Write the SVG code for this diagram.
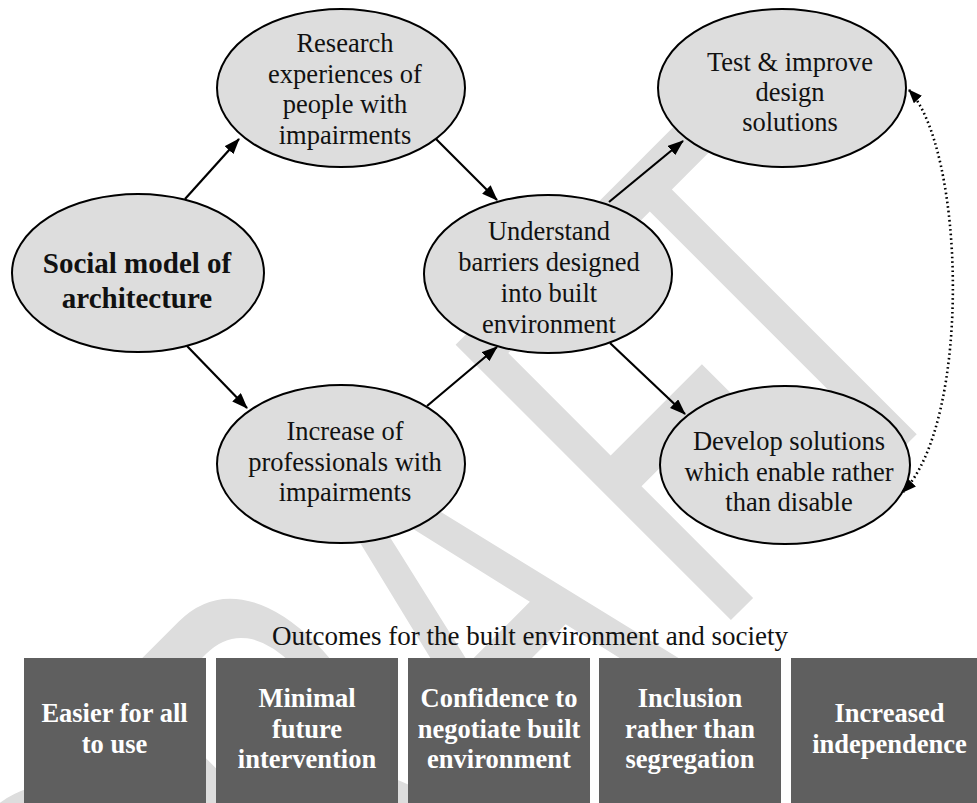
<svg xmlns="http://www.w3.org/2000/svg" width="977" height="803" viewBox="0 0 977 803">
  <style>
    .node ellipse { fill: #dddddd; stroke: #000000; stroke-width: 2; }
    .lbl { font-family: "Liberation Serif", "Times New Roman", serif; font-size: 26.5px; fill: #111111; text-anchor: middle; }
    .bold { font-weight: bold; font-size: 29px; }
    .box rect { fill: #5f5f5f; }
    .boxlbl { font-family: "Liberation Serif", "Times New Roman", serif; font-size: 26.5px; font-weight: bold; fill: #ffffff; text-anchor: middle; }
    .conn { stroke: #000000; stroke-width: 2.2; fill: none; }
    .dotted { stroke: #000000; stroke-width: 2.6; fill: none; stroke-dasharray: 1.6 3; }
    .wm { font-family: "Liberation Sans", Arial, sans-serif; font-size: 566px; fill: #dddddd; }
  </style>
  <defs>
    <marker id="arrow" viewBox="0 0 16 12" markerUnits="userSpaceOnUse" markerWidth="16" markerHeight="12" refX="15" refY="6" orient="auto">
      <path d="M0,0 L16,6 L0,12 z" fill="#000000"/>
    </marker>
    <marker id="arrowS" viewBox="0 0 14 11" markerUnits="userSpaceOnUse" markerWidth="14" markerHeight="11" refX="13" refY="5.5" orient="auto-start-reverse">
      <path d="M0,0 L14,5.5 L0,11 z" fill="#000000"/>
    </marker>
  </defs>
  <rect x="0" y="0" width="977" height="803" fill="#ffffff"/>

  <g id="watermark">
    <text class="wm" transform="translate(186,1165) rotate(-45) scale(0.594,1)" x="0" y="0">DRA<tspan dx="56">F</tspan><tspan dx="-56">T</tspan></text>
  </g>

  <g id="node-social" class="node">
    <ellipse cx="138" cy="273" rx="126" ry="79"/>
    <text class="lbl bold" x="137" y="273">Social model of</text>
    <text class="lbl bold" x="137" y="308">architecture</text>
  </g>
  <g id="node-research" class="node">
    <ellipse cx="341" cy="88" rx="124" ry="79"/>
    <text class="lbl" x="345" y="52">Research</text>
    <text class="lbl" x="345" y="82.5">experiences of</text>
    <text class="lbl" x="345" y="113">people with</text>
    <text class="lbl" x="345" y="143.5">impairments</text>
  </g>
  <g id="node-increase" class="node">
    <ellipse cx="341" cy="464" rx="124" ry="79"/>
    <text class="lbl" x="345" y="440">Increase of</text>
    <text class="lbl" x="345" y="470.5">professionals with</text>
    <text class="lbl" x="345" y="501">impairments</text>
  </g>
  <g id="node-understand" class="node">
    <ellipse cx="548" cy="274" rx="124" ry="79"/>
    <text class="lbl" x="549" y="240">Understand</text>
    <text class="lbl" x="549" y="271">barriers designed</text>
    <text class="lbl" x="549" y="302">into built</text>
    <text class="lbl" x="549" y="333">environment</text>
  </g>
  <g id="node-test" class="node">
    <ellipse cx="782" cy="88" rx="124" ry="79"/>
    <text class="lbl" x="790" y="70.5">Test &amp; improve</text>
    <text class="lbl" x="790" y="101">design</text>
    <text class="lbl" x="790" y="131">solutions</text>
  </g>
  <g id="node-develop" class="node">
    <ellipse cx="785" cy="465" rx="125" ry="79"/>
    <text class="lbl" x="789" y="450">Develop solutions</text>
    <text class="lbl" x="789" y="480.5">which enable rather</text>
    <text class="lbl" x="789" y="511">than disable</text>
  </g>

  <g id="connectors">
    <line class="conn" x1="185" y1="199" x2="239" y2="139" marker-end="url(#arrow)"/>
    <line class="conn" x1="187" y1="346" x2="247" y2="408" marker-end="url(#arrow)"/>
    <line class="conn" x1="436" y1="139" x2="497" y2="200" marker-end="url(#arrow)"/>
    <line class="conn" x1="427" y1="406" x2="497" y2="347" marker-end="url(#arrow)"/>
    <line class="conn" x1="609" y1="202" x2="683" y2="141" marker-end="url(#arrow)"/>
    <line class="conn" x1="610" y1="343" x2="685" y2="414" marker-end="url(#arrow)"/>
    <path class="dotted" d="M909,90 C965,150 972,420 903,492" marker-start="url(#arrowS)" marker-end="url(#arrowS)"/>
  </g>

  <g id="outcomes-title">
    <text class="lbl" x="530" y="645" style="font-size:27px">Outcomes for the built environment and society</text>
  </g>

  <g id="box-easier" class="box">
    <rect x="24" y="658" width="182" height="150"/>
    <text class="boxlbl" x="114.5" y="722">Easier for all</text>
    <text class="boxlbl" x="114.5" y="753">to use</text>
  </g>
  <g id="box-minimal" class="box">
    <rect x="216" y="658" width="182" height="150"/>
    <text class="boxlbl" x="307" y="707">Minimal</text>
    <text class="boxlbl" x="307" y="737.5">future</text>
    <text class="boxlbl" x="307" y="768">intervention</text>
  </g>
  <g id="box-confidence" class="box">
    <rect x="408" y="658" width="182" height="150"/>
    <text class="boxlbl" x="499" y="707">Confidence to</text>
    <text class="boxlbl" x="499" y="737.5">negotiate built</text>
    <text class="boxlbl" x="499" y="768">environment</text>
  </g>
  <g id="box-inclusion" class="box">
    <rect x="599" y="658" width="182" height="150"/>
    <text class="boxlbl" x="690" y="707">Inclusion</text>
    <text class="boxlbl" x="690" y="737.5">rather than</text>
    <text class="boxlbl" x="690" y="768">segregation</text>
  </g>
  <g id="box-independence" class="box">
    <rect x="791" y="658" width="200" height="150"/>
    <text class="boxlbl" x="889.5" y="722">Increased</text>
    <text class="boxlbl" x="889.5" y="753">independence</text>
  </g>
</svg>
